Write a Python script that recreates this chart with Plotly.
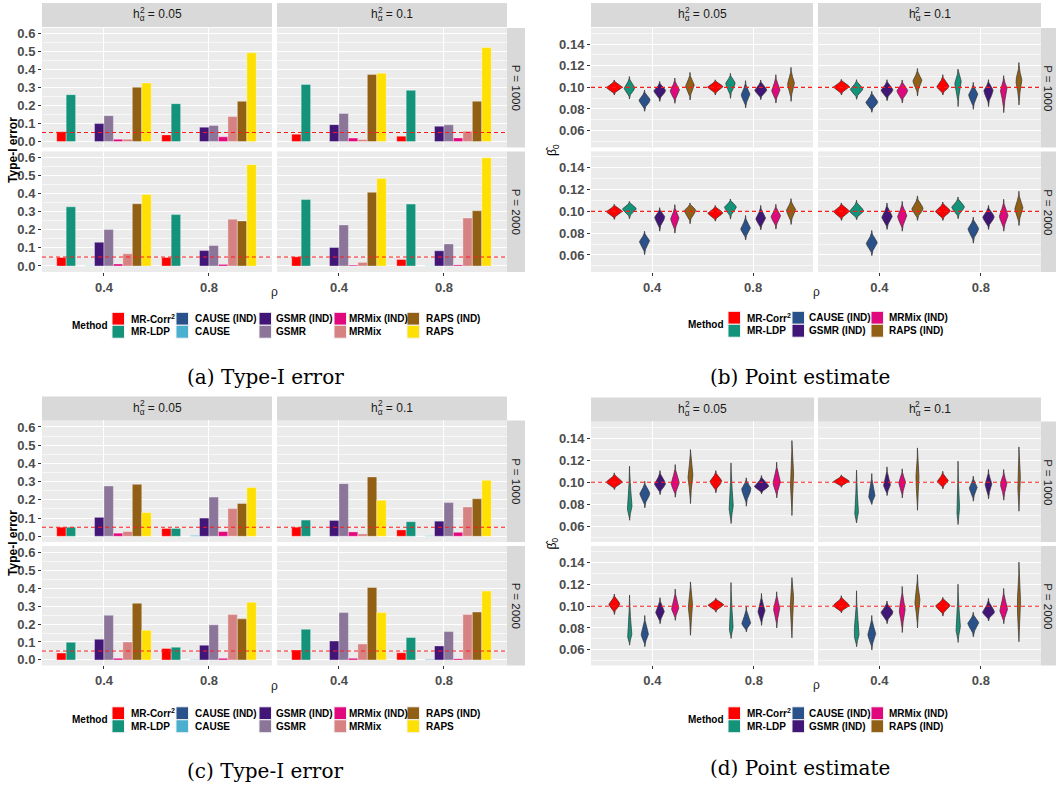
import numpy as np
import plotly.graph_objects as go

W, H = 1056, 790

# ---------------- data ----------------
rho_vals = [0.4, 0.8]
h2_levels = ["0.05", "0.1"]
P_levels = ["1000", "2000"]
alpha_level = 0.05
beta_true = 0.10

bar_methods = ["MR-Corr<sup>2</sup>", "MR-LDP", "CAUSE (IND)", "CAUSE", "GSMR (IND)",
               "GSMR", "MRMix (IND)", "MRMix", "RAPS (IND)", "RAPS"]
bar_colors = ["#FF0000", "#13937A", "#2A5189", "#4BAFD0", "#421677",
              "#8B7599", "#E1087E", "#D78282", "#926014", "#FFE005"]
vio_methods = ["MR-Corr<sup>2</sup>", "MR-LDP", "CAUSE (IND)", "GSMR (IND)", "MRMix (IND)", "RAPS (IND)"]
vio_colors = ["#FF0000", "#13937A", "#2A5189", "#421677", "#E1087E", "#926014"]

# Type-I error, panel (a): [rho=0.4 row, rho=0.8 row], 10 methods each
typeI_a_h005_P1000 = [[0.054, 0.261, 0, 0, 0.100, 0.144, 0.013, 0.013, 0.302, 0.326],
                      [0.037, 0.211, 0, 0, 0.080, 0.089, 0.026, 0.139, 0.224, 0.494]]
typeI_a_h01_P1000 = [[0.041, 0.318, 0, 0, 0.094, 0.156, 0.019, 0.011, 0.374, 0.381],
                     [0.030, 0.285, 0, 0, 0.085, 0.093, 0.020, 0.057, 0.224, 0.524]]
typeI_a_h005_P2000 = [[0.047, 0.327, 0, 0.002, 0.131, 0.202, 0.011, 0.067, 0.344, 0.395],
                      [0.047, 0.284, 0, 0, 0.085, 0.113, 0.009, 0.258, 0.249, 0.560]]
typeI_a_h01_P2000 = [[0.051, 0.367, 0, 0, 0.102, 0.227, 0.005, 0.020, 0.407, 0.484],
                     [0.036, 0.342, 0, 0.002, 0.084, 0.122, 0.006, 0.265, 0.305, 0.598]]

# Type-I error, panel (c)
typeI_c_h005_P1000 = [[0.050, 0.050, 0, 0, 0.104, 0.276, 0.017, 0.026, 0.285, 0.130],
                      [0.043, 0.043, 0, 0.005, 0.100, 0.215, 0.026, 0.152, 0.180, 0.268]]
typeI_c_h01_P1000 = [[0.050, 0.089, 0, 0, 0.087, 0.289, 0.024, 0.013, 0.326, 0.198],
                     [0.035, 0.080, 0, 0.003, 0.083, 0.185, 0.022, 0.161, 0.206, 0.307]]
typeI_c_h005_P2000 = [[0.038, 0.098, 0, 0, 0.115, 0.249, 0.009, 0.100, 0.316, 0.165],
                      [0.064, 0.071, 0, 0.002, 0.082, 0.196, 0.009, 0.253, 0.229, 0.322]]
typeI_c_h01_P2000 = [[0.055, 0.171, 0, 0, 0.105, 0.264, 0.009, 0.089, 0.404, 0.264],
                     [0.040, 0.125, 0, 0.003, 0.078, 0.158, 0.007, 0.253, 0.267, 0.384]]

# Point estimates: violin summaries (low end, mode, high end) per method, [rho=0.4, rho=0.8]
est_b_h005_P1000 = [[(0.0929, 0.1000, 0.1068), (0.0892, 0.0994, 0.1100), (0.0778, 0.0883, 0.0975),
                     (0.0870, 0.0969, 0.1055), (0.0852, 0.0969, 0.1086), (0.0883, 0.1015, 0.1138)],
                    [(0.0929, 0.1006, 0.1070), (0.0898, 0.1037, 0.1129), (0.0810, 0.0930, 0.1062),
                     (0.0886, 0.0975, 0.1068), (0.0855, 0.0970, 0.1117), (0.0870, 0.1030, 0.1185)]]
est_b_h01_P1000 = [[(0.0929, 0.1006, 0.1074), (0.0889, 0.0985, 0.1071), (0.0769, 0.0862, 0.0963),
                    (0.0877, 0.0975, 0.1071), (0.0855, 0.0969, 0.1068), (0.0920, 0.1060, 0.1175)],
                   [(0.0929, 0.1006, 0.1117), (0.0822, 0.1046, 0.1169), (0.0797, 0.0930, 0.1046),
                    (0.0822, 0.0970, 0.1071), (0.0766, 0.0985, 0.1108), (0.0837, 0.1060, 0.1230)]]
est_b_h005_P2000 = [[(0.0926, 0.1000, 0.1065), (0.0932, 0.1025, 0.1092), (0.0603, 0.0726, 0.0818),
                     (0.0818, 0.0948, 0.1034), (0.0800, 0.0932, 0.1062), (0.0886, 0.1010, 0.1077)],
                    [(0.0910, 0.0985, 0.1055), (0.0929, 0.1040, 0.1114), (0.0738, 0.0840, 0.0963),
                     (0.0830, 0.0932, 0.1055), (0.0837, 0.0954, 0.1065), (0.0880, 0.1010, 0.1117)]]
est_b_h01_P2000 = [[(0.0917, 0.1000, 0.1077), (0.0923, 0.1003, 0.1102), (0.0594, 0.0708, 0.0825),
                    (0.0834, 0.0948, 0.1077), (0.0818, 0.0954, 0.1092), (0.0917, 0.1025, 0.1142)],
                   [(0.0917, 0.1003, 0.1086), (0.0932, 0.1040, 0.1132), (0.0708, 0.0840, 0.0948),
                    (0.0834, 0.0948, 0.1055), (0.0818, 0.0954, 0.1111), (0.0870, 0.1025, 0.1185)]]

est_d_h005_P1000 = [[(0.0933, 0.1000, 0.1085), (0.0653, 0.0774, 0.1146), (0.0766, 0.0897, 0.1009),
                     (0.0887, 0.0985, 0.1106), (0.0863, 0.0988, 0.1161), (0.0805, 0.1050, 0.1298)],
                    [(0.0903, 0.1009, 0.1106), (0.0623, 0.0780, 0.1176), (0.0781, 0.0939, 0.1040),
                     (0.0894, 0.0963, 0.1061), (0.0857, 0.0994, 0.1183), (0.0696, 0.1040, 0.1380)]]
est_d_h01_P1000 = [[(0.0954, 0.1009, 0.1067), (0.0629, 0.0720, 0.1110), (0.0796, 0.0872, 0.1079),
                    (0.0878, 0.0970, 0.1140), (0.0857, 0.0994, 0.1122), (0.0744, 0.1020, 0.1313)],
                   [(0.0939, 0.1009, 0.1100), (0.0614, 0.0750, 0.1192), (0.0827, 0.0948, 0.1055),
                    (0.0848, 0.0979, 0.1116), (0.0836, 0.0979, 0.1116), (0.0735, 0.1020, 0.1322)]]
est_d_h005_P2000 = [[(0.0924, 0.1020, 0.1112), (0.0642, 0.0733, 0.1103), (0.0627, 0.0739, 0.0915),
                     (0.0839, 0.0945, 0.1079), (0.0870, 0.0976, 0.1158), (0.0733, 0.1000, 0.1224)],
                    [(0.0945, 0.1012, 0.1076), (0.0703, 0.0800, 0.1218), (0.0764, 0.0840, 0.1000),
                     (0.0824, 0.0952, 0.1118), (0.0800, 0.0976, 0.1133), (0.0709, 0.1050, 0.1264)]]
est_d_h01_P2000 = [[(0.0939, 0.1006, 0.1097), (0.0627, 0.0733, 0.1142), (0.0597, 0.0739, 0.0915),
                    (0.0839, 0.0945, 0.1048), (0.0758, 0.0961, 0.1182), (0.0800, 0.1040, 0.1291)],
                   [(0.0909, 0.1006, 0.1082), (0.0667, 0.0800, 0.1203), (0.0718, 0.0845, 0.0945),
                    (0.0864, 0.0945, 0.1073), (0.0839, 0.0961, 0.1164), (0.0673, 0.1000, 0.1406)]]

bar_ticks = [0.0, 0.1, 0.2, 0.3, 0.4, 0.5, 0.6]
vio_ticks = [0.06, 0.08, 0.10, 0.12, 0.14]

# ---------------- layout helpers ----------------
FONT = "Liberation Sans, Arial, sans-serif"
SERIF = "DejaVu Serif, Liberation Serif, serif"

def fx(x):
    return x / W

def fy(y):
    return 1 - y / H

panels = [
    dict(kind="bar", data=[typeI_a_h005_P1000, typeI_a_h01_P1000, typeI_a_h005_P2000, typeI_a_h01_P2000],
         cols=[(42, 272), (277, 507)], rows=[(27, 147), (151, 272)], strip_top=(2, 26), strip_right=(507, 525),
         xr=[0.164, 1.04], yr=[-0.033, 0.633], ytitle="<b>Type-I error</b>", ytitle_x=13,
         rho_y=292, leg_rows=(319, 332), caption="(a) Type-I error", cap_xy=(265, 377)),
    dict(kind="vio", data=[est_b_h005_P1000, est_b_h01_P1000, est_b_h005_P2000, est_b_h01_P2000],
         cols=[(591, 813), (818, 1041)], rows=[(27, 147), (151, 272)], strip_top=(2, 26), strip_right=(1041, 1056),
         xr=[0.158, 1.037], yr=[0.0444, 0.1550], ytitle="β\u0302<sub>0</sub>", ytitle_x=553,
         rho_y=292, leg_rows=(318, 331), caption="(b) Point estimate", cap_xy=(800, 377)),
    dict(kind="bar", data=[typeI_c_h005_P1000, typeI_c_h01_P1000, typeI_c_h005_P2000, typeI_c_h01_P2000],
         cols=[(42, 272), (277, 507)], rows=[(421, 543), (547, 667)], strip_top=(397, 421), strip_right=(507, 525),
         xr=[0.164, 1.04], yr=[-0.031, 0.636], ytitle="<b>Type-I error</b>", ytitle_x=13,
         rho_y=688, leg_rows=(715, 728), caption="(c) Type-I error", cap_xy=(265, 773)),
    dict(kind="vio", data=[est_d_h005_P1000, est_d_h01_P1000, est_d_h005_P2000, est_d_h01_P2000],
         cols=[(591, 814), (818, 1041)], rows=[(422, 543), (547, 667)], strip_top=(398, 422), strip_right=(1041, 1056),
         xr=[0.158, 1.037], yr=[0.0455, 0.1555], ytitle="β\u0302<sub>0</sub>", ytitle_x=553,
         rho_y=687, leg_rows=(715, 728), caption="(d) Point estimate", cap_xy=(800, 770)),
]

fig = go.Figure()
layout = dict(width=W, height=H, margin=dict(l=0, r=0, t=0, b=0), autosize=False,
              paper_bgcolor="white", plot_bgcolor="#EBEBEB", barmode="group",
              bargap=0.1, bargroupgap=0.0, showlegend=False, font=dict(family=FONT, size=12))
shapes = []
annotations = []

def ann(x, y, text, size=11, color="#1A1A1A", angle=0, family=FONT, xanchor="center"):
    annotations.append(dict(x=fx(x), y=fy(y), xref="paper", yref="paper", text=text, showarrow=False,
                            textangle=angle, xanchor=xanchor, yanchor="middle",
                            font=dict(family=family, size=size, color=color)))

# approximate Liberation Sans advance widths (em) for strip-label layout
CHAR_W = {"h": 0.556, " ": 0.278, "=": 0.584, "0": 0.556, "1": 0.556, "5": 0.556, ".": 0.278, "α": 0.58}

def text_w(s, size):
    return sum(CHAR_W.get(ch, 0.556) for ch in s) * size

def strip_label(cx, cy, level, size=12):
    # "h" with stacked superscript 2 and subscript alpha, then " = level"
    sub = 0.7 * size
    rest = f" = {level}"
    total = text_w("h", size) + text_w("α", sub) + text_w(rest, size)
    left = cx - total / 2
    ann(cx, cy, f"h<sub>α</sub>{rest}", size=size)
    ann(left + text_w("h", size) + text_w("α", sub) / 2 + 0.3, cy - 5.5, "2", size=sub)

def violin_profile(lo, peak, hi, n=90):
    ys = np.linspace(lo, hi, n)
    s_lo = (peak - lo) / 3.0
    s_hi = (hi - peak) / 3.0
    s = np.where(ys < peak, s_lo, s_hi)
    dens = np.exp(-0.5 * ((ys - peak) / s) ** 2) / (np.sqrt(np.pi / 2) * (s_lo + s_hi))
    return ys, dens

k = 0
for p in panels:
    for f in range(4):
        r, c = f // 2, f % 2
        k += 1
        xname = "x" if k == 1 else f"x{k}"
        yname = "y" if k == 1 else f"y{k}"
        xa_key = "xaxis" if k == 1 else f"xaxis{k}"
        ya_key = "yaxis" if k == 1 else f"yaxis{k}"
        x0, x1 = p["cols"][c]
        y0, y1 = p["rows"][r]
        bottom = (r == 1)
        left = (c == 0)
        layout[xa_key] = dict(domain=[fx(x0), fx(x1)], anchor=yname, range=p["xr"], tickvals=rho_vals,
                              ticktext=["0.4", "0.8"], showticklabels=bottom,
                              ticks="outside" if bottom else "", ticklen=3, tickcolor="#333333",
                              showgrid=True, gridcolor="white", gridwidth=1.1, zeroline=False,
                              showline=False, fixedrange=True,
                              tickfont=dict(family=FONT, size=13, color="#4D4D4D", weight="bold"))
        if p["kind"] == "bar":
            yt = bar_ticks
            ytext = [f"{v:.1f}" for v in yt]
            minor_vals = [round(v + 0.05, 3) for v in [-0.1] + yt]
        else:
            yt = vio_ticks
            ytext = [f"{v:.2f}" for v in yt]
            minor_vals = [round(v + 0.01, 3) for v in [0.04] + yt]
        layout[ya_key] = dict(domain=[fy(y1), fy(y0)], anchor=xname, range=p["yr"], tickvals=yt,
                              ticktext=ytext, showticklabels=left,
                              ticks="outside" if left else "", ticklen=3, tickcolor="#333333",
                              showgrid=True, gridcolor="white", gridwidth=1.1, zeroline=False,
                              showline=False, fixedrange=True,
                              minor=dict(tickmode="array", tickvals=minor_vals, showgrid=True,
                                         gridcolor="#F7F7F7", gridwidth=0.6, ticks=""),
                              tickfont=dict(family=FONT, size=13, color="#4D4D4D", weight="bold"))
        data = p["data"][f]
        if p["kind"] == "bar":
            for m in range(len(bar_methods)):
                fig.add_trace(go.Bar(x=rho_vals, y=[data[0][m], data[1][m]], xaxis=xname, yaxis=yname,
                                     name=bar_methods[m], marker=dict(color=bar_colors[m],
                                     line=dict(color="rgba(255,255,255,0.35)", width=1)),
                                     showlegend=False))
            ref = alpha_level
        else:
            dodge = 0.06
            profiles = []
            for ri, rv in enumerate(rho_vals):
                for m in range(len(vio_methods)):
                    lo, pk, hi = data[ri][m]
                    ys, d = violin_profile(lo, pk, hi)
                    profiles.append((rv + (m - 2.5) * dodge, ys, d, m))
            dmax = max(pr[2].max() for pr in profiles)
            for cx, ys, d, m in profiles:
                hw = 0.031 * d / dmax
                xs = np.concatenate([cx + hw, (cx - hw)[::-1], [cx + hw[0]]])
                yy = np.concatenate([ys, ys[::-1], [ys[0]]])
                fig.add_trace(go.Scatter(x=xs, y=yy, mode="lines", fill="toself", fillcolor=vio_colors[m],
                                         line=dict(color="#333333", width=0.7), xaxis=xname, yaxis=yname,
                                         name=vio_methods[m], showlegend=False, hoverinfo="skip"))
            ref = beta_true
        shapes.append(dict(type="line", xref=f"{xname} domain", yref=yname, x0=0, x1=1, y0=ref, y1=ref,
                           line=dict(color="#FF1A1A", width=1.1, dash="4px,3px"), layer="above"))
        # strips
        if r == 0:
            s0, s1 = p["strip_top"]
            shapes.append(dict(type="rect", xref="paper", yref="paper", x0=fx(x0), x1=fx(x1),
                               y0=fy(s1), y1=fy(s0), fillcolor="#D9D9D9", line=dict(width=0), layer="below"))
            strip_label((x0 + x1) / 2, (s0 + s1) / 2 + 0.5, h2_levels[c])
        if c == 1:
            s0, s1 = p["strip_right"]
            shapes.append(dict(type="rect", xref="paper", yref="paper", x0=fx(s0), x1=fx(s1),
                               y0=fy(y1), y1=fy(y0), fillcolor="#D9D9D9", line=dict(width=0), layer="below"))
            ann((s0 + s1) / 2, (y0 + y1) / 2, f"P = {P_levels[r]}", size=11.5, angle=90)

    # axis titles
    xl = p["cols"][0][0]
    xr_ = p["cols"][1][1]
    ann((xl + xr_) / 2, p["rho_y"], "ρ", size=12, color="#1A1A1A")
    ann(p["ytitle_x"], (p["rows"][0][0] + p["rows"][1][1]) / 2, p["ytitle"], size=12,
        color="black", angle=-90)
    # legend
    ly1, ly2 = p["leg_rows"]
    kh = ly2 - ly1
    if p["kind"] == "bar":
        ann(90, (ly1 + ly2) / 2, "<b>Method</b>", size=10, color="black")
        key_x = [112, 176, 259, 334, 407]
        lab_x = [129, 193, 274, 347, 424]
        items = list(range(10))
    else:
        ann(706, (ly1 + ly2) / 2, "<b>Method</b>", size=10, color="black")
        key_x = [728, 792, 871]
        lab_x = [745, 807, 887]
        items = list(range(6))
    names = bar_methods if p["kind"] == "bar" else vio_methods
    cols_ = bar_colors if p["kind"] == "bar" else vio_colors
    for i in items:
        col = i // 2
        row = i % 2
        yc = ly1 if row == 0 else ly2
        kx = key_x[col]
        shapes.append(dict(type="rect", xref="paper", yref="paper", x0=fx(kx), x1=fx(kx + 12.5),
                           y0=fy(yc + kh / 2), y1=fy(yc - kh / 2), fillcolor=cols_[i],
                           line=dict(color="#F2F2F2", width=1)))
        ann(lab_x[col], yc, f"<b>{names[i]}</b>", size=10, color="black", xanchor="left")
    # caption
    ann(p["cap_xy"][0], p["cap_xy"][1], p["caption"], size=20, color="black", family=SERIF)

layout["shapes"] = shapes
layout["annotations"] = annotations
fig.update_layout(**layout)
fig.write_html("out.html", config={"displayModeBar": False},
               post_script="document.body.style.margin='0px';")
